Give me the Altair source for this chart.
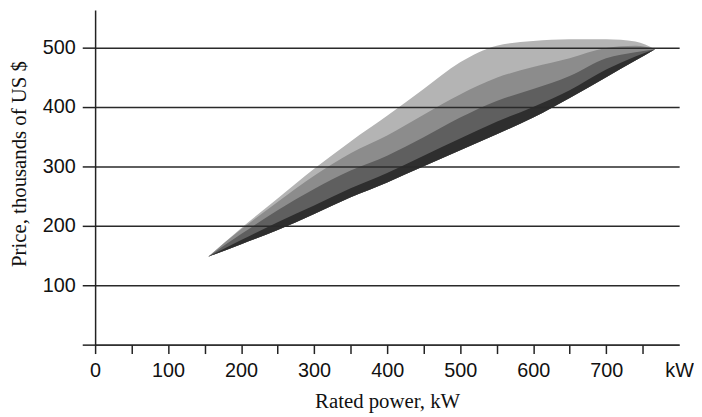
import altair as alt
import pandas as pd

# Rated power (kW) sample positions along the shaded region
power = [155, 200, 250, 300, 350, 400, 450, 500, 550, 600, 650, 700, 740, 767]
# Price boundaries (thousands of US $)
price_upper = [148, 196, 246, 296, 342, 385, 430, 475, 503, 511, 514, 514, 510, 497]
price_band1 = [148, 194, 240, 284, 322, 352, 387, 421, 449, 467, 482, 499, 503, 497]
price_band2 = [148, 186, 226, 262, 293, 318, 349, 382, 410, 430, 452, 482, 492, 497]
price_band3 = [148, 176, 206, 234, 263, 289, 318, 347, 375, 400, 428, 463, 485, 497]
price_lower = [148, 169, 193, 220, 248, 273, 300, 327, 354, 382, 415, 450, 478, 497]
band_colors = ["#b4b4b4", "#8c8c8c", "#5f5f5f", "#2e2e2e"]

x_ticks = list(range(0, 801, 50))
y_ticks = [0, 100, 200, 300, 400, 500]

df = pd.DataFrame({
    "power": power,
    "upper": price_upper,
    "b1": price_band1,
    "b2": price_band2,
    "b3": price_band3,
    "lower": price_lower,
})

AX = "#222222"

x_axis = alt.Axis(
    values=x_ticks,
    labelExpr="datum.value == 800 ? 'kW' : (datum.value % 100 == 0 ? datum.label : '')",
    tickSize=9, tickWidth=1.5,
    tickColor={"condition": {"test": "datum.value == 800", "value": "transparent"}, "value": AX},
    domainColor=AX, domainWidth=1.5, grid=False,
    labelFont="Liberation Sans", labelFontSize=20, labelColor="#111111",
    labelPadding=7, labelFlush=False, labelOverlap=False, labelAngle=0,
    title="Rated power, kW", titleFont="Liberation Serif", titleFontSize=21,
    titleFontWeight="normal", titleColor="#111111", titlePadding=11, zindex=1,
)

y_axis = alt.Axis(
    values=y_ticks,
    labelExpr="datum.value == 0 ? '' : datum.label",
    tickSize=13, tickWidth=1.5, tickColor=AX,
    domainColor=AX, domainWidth=1.5,
    grid=True, gridColor="#2a2a2a", gridWidth=1.5,
    labelFont="Liberation Sans", labelFontSize=20, labelColor="#111111",
    labelPadding=7, labelFlush=False,
    title="Price, thousands of US $", titleFont="Liberation Serif", titleFontSize=21,
    titleFontWeight="normal", titleColor="#111111", titlePadding=13, titleY=155, zindex=1,
)

xs = alt.Scale(domain=[0, 800], nice=False, zero=False)
ys = alt.Scale(domain=[0, 563], nice=False, zero=False)

layers = []
for top_field, color in zip(["upper", "b1", "b2", "b3"], band_colors):
    layers.append(
        alt.Chart(df).mark_area(color=color, interpolate="monotone", opacity=1).encode(
            x=alt.X("power:Q", scale=xs, axis=x_axis),
            y=alt.Y(f"{top_field}:Q", scale=ys, axis=y_axis),
            y2=alt.Y2("lower:Q"),
        )
    )

chart = alt.layer(*layers).properties(
    width=590, height=338, padding=0, background="white"
).configure_view(stroke=None)

chart.save("out.html", embed_options={"renderer": "svg", "actions": False})
